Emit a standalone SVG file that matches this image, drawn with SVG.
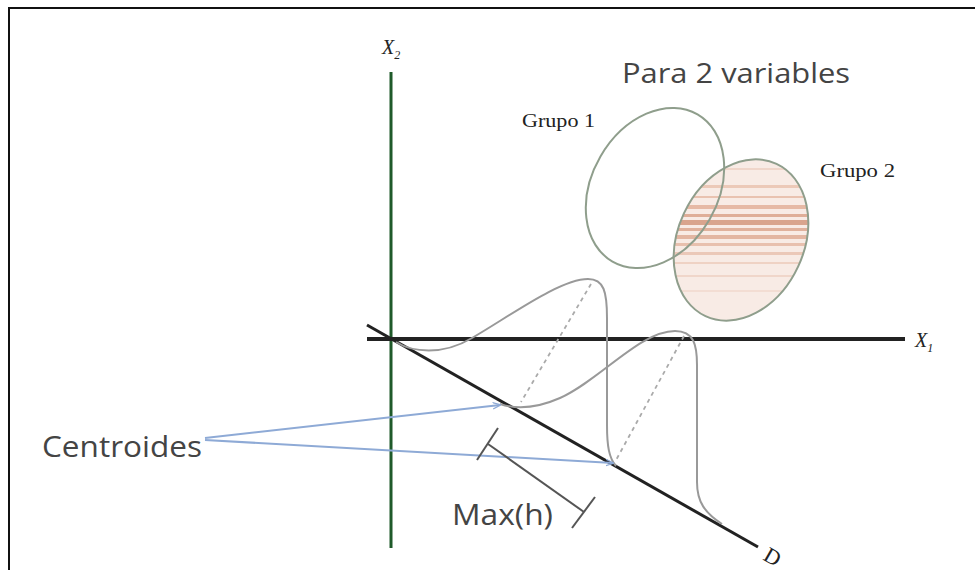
<svg xmlns="http://www.w3.org/2000/svg" width="975" height="570" viewBox="0 0 975 570">
  <defs>
    <style>
      .sans { font-family: "Open Sans", "Liberation Sans", sans-serif; fill: #444; }
      .serif { font-family: "Liberation Serif", serif; fill: #222; }
      .curve { fill: none; stroke: #999; stroke-width: 2; }
      .dash { fill: none; stroke: #aaa; stroke-width: 1.8; stroke-dasharray: 4 4; }
      .arrow { fill: none; stroke: #8eaad6; stroke-width: 2; marker-end: url(#ah); }
      .brk { fill: none; stroke: #555; stroke-width: 2; }
    </style>
    <marker id="ah" viewBox="0 0 10 10" refX="9" refY="5" markerWidth="8" markerHeight="8" orient="auto" markerUnits="userSpaceOnUse">
      <path d="M0,1 L10,5 L0,9" fill="none" stroke="#8eaad6" stroke-width="1.6"/>
    </marker>
    <clipPath id="e2clip">
      <ellipse cx="741" cy="240" rx="63" ry="84" transform="rotate(25 741 240)"/>
    </clipPath>
  </defs>

  <rect x="0" y="0" width="975" height="570" fill="#fff"/>
  <rect x="9" y="8" width="980" height="580" fill="none" stroke="#111" stroke-width="2"/>

  <g id="group2">
    <g clip-path="url(#e2clip)">
      <rect x="660" y="150" width="170" height="180" fill="#f8ebe5"/>
      <rect x="660" y="168" width="170" height="2" fill="#f0d6ca"/>
      <rect x="660" y="185" width="170" height="3" fill="#ecc9b8"/>
      <rect x="660" y="196" width="170" height="2" fill="#e9c2b0"/>
      <rect x="660" y="205" width="170" height="4" fill="#e6b9a5"/>
      <rect x="660" y="214" width="170" height="3" fill="#dfae98"/>
      <rect x="660" y="220" width="170" height="5" fill="#d9a48d"/>
      <rect x="660" y="228" width="170" height="3" fill="#e0b19c"/>
      <rect x="660" y="235" width="170" height="4" fill="#e3b6a2"/>
      <rect x="660" y="243" width="170" height="3" fill="#e8c0ae"/>
      <rect x="660" y="252" width="170" height="3" fill="#ebc8b8"/>
      <rect x="660" y="262" width="170" height="2" fill="#efd2c4"/>
      <rect x="660" y="275" width="170" height="2" fill="#f0d6ca"/>
      <rect x="660" y="290" width="170" height="2" fill="#f3ddd3"/>
    </g>
    <ellipse cx="741" cy="240" rx="63" ry="84" transform="rotate(25 741 240)" fill="none" stroke="#8f9e8c" stroke-width="2"/>
    <text class="serif" x="820" y="177" font-size="19" textLength="75" lengthAdjust="spacingAndGlyphs">Grupo 2</text>
  </g>

  <g id="group1">
    <ellipse cx="655" cy="188" rx="63" ry="85" transform="rotate(30 655 188)" fill="none" stroke="#8f9e8c" stroke-width="2"/>
    <text class="serif" x="522" y="127" font-size="19" textLength="73" lengthAdjust="spacingAndGlyphs">Grupo 1</text>
  </g>

  <g id="title">
    <text class="sans" x="622" y="83" font-size="28" textLength="228" lengthAdjust="spacingAndGlyphs">Para 2 variables</text>
  </g>

  <g id="axes">
    <line x1="391" y1="72" x2="391" y2="548" stroke="#1f5a2a" stroke-width="3"/>
    <text class="serif" x="382" y="54" font-size="20" font-style="italic" fill="#444">X<tspan font-size="12" dy="5">2</tspan></text>
    <line x1="367" y1="339" x2="905" y2="339" stroke="#222" stroke-width="4"/>
    <text class="serif" x="915" y="347" font-size="20" font-style="italic" fill="#444">X<tspan font-size="12" dy="5">1</tspan></text>
    <line x1="367" y1="325" x2="758" y2="547" stroke="#222" stroke-width="3"/>
    <text class="serif" x="764" y="564" font-size="22" transform="rotate(30 772 558)" fill="#333">D</text>
  </g>

  <g id="distributions">
    <path class="curve" d="M 396 342 C 412 352, 442 356, 472 338 C 510 316, 560 279, 588 279 C 604 279, 607 292, 607 318 L 607 425 C 607 446, 609 458, 616 466"/>
    <path class="curve" d="M 500 404 C 515 409, 535 409, 560 398 C 600 380, 640 331, 675 331 C 694 331, 697 345, 697 365 L 697 482 C 697 502, 705 513, 722 524"/>
    <path class="dash" d="M 591 284 L 521 402"/>
    <path class="dash" d="M 684 336 L 615 462"/>
  </g>

  <g id="connectors">
    <line class="arrow" x1="205" y1="438" x2="500" y2="405"/>
    <line class="arrow" x1="205" y1="440" x2="613" y2="463"/>
    <line class="brk" x1="488" y1="444" x2="584" y2="512"/>
    <line class="brk" x1="477" y1="460" x2="498" y2="428"/>
    <line class="brk" x1="572" y1="528" x2="595" y2="497"/>
  </g>

  <g id="labels">
    <text class="sans" x="42" y="457" font-size="29" textLength="160" lengthAdjust="spacingAndGlyphs">Centroides</text>
    <text class="sans" x="452" y="525" font-size="29" textLength="101" lengthAdjust="spacingAndGlyphs">Max(h)</text>
  </g>
</svg>
